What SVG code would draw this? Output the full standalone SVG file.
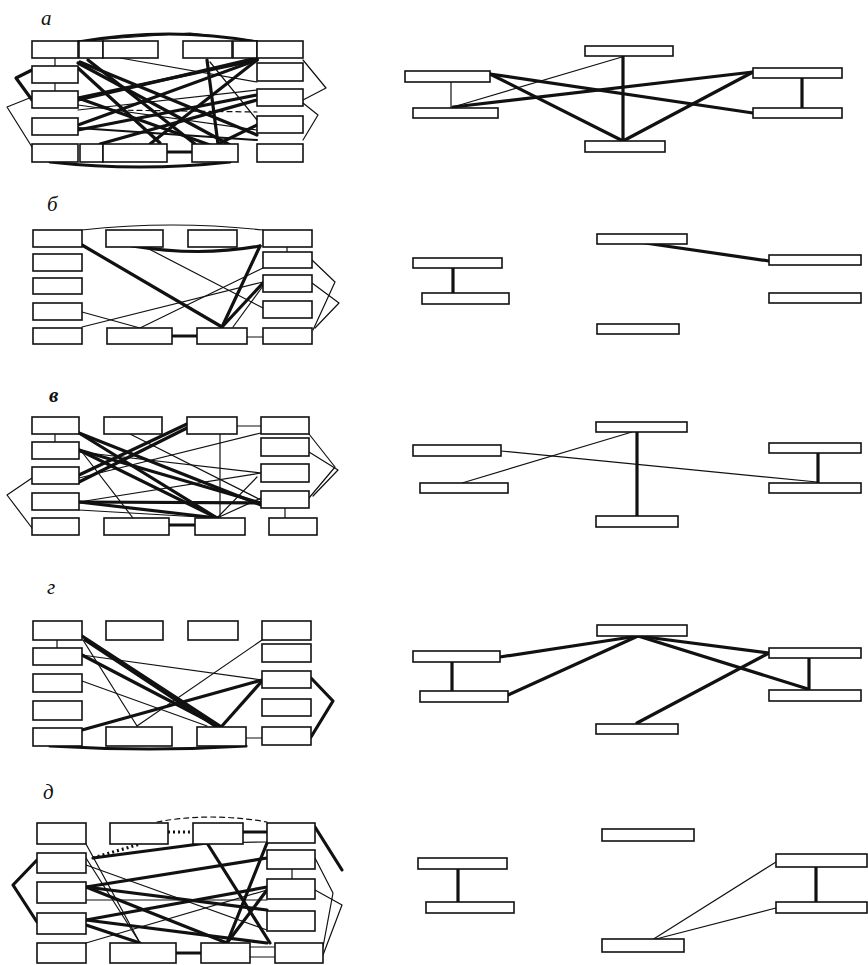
<svg xmlns="http://www.w3.org/2000/svg" width="868" height="965" viewBox="0 0 868 965">
<style>
rect{fill:#fff;stroke:#111;stroke-width:1.6}
.c line,.c path,.c polyline{stroke:#111;fill:none;stroke-linecap:round;stroke-linejoin:round}
.t{stroke-width:1.2}
.m{stroke-width:2}
.k{stroke-width:3.2}
.dash{stroke-dasharray:5,4}
.dot{stroke-dasharray:2,3;stroke-linecap:butt!important}
.lab{font-family:"Liberation Serif",serif;font-style:italic;font-size:21px;fill:#111}
</style>
<rect x="0" y="0" width="868" height="965" style="fill:#fff;stroke:none"/>
<text class="lab" x="41" y="25">а</text>
<text class="lab" x="47" y="211">б</text>
<text class="lab" x="49" y="402" font-weight="bold">в</text>
<text class="lab" x="47" y="594">г</text>
<text class="lab" x="43" y="799">д</text>

<!-- ===== Panel a, left ===== -->
<g class="c" id="a-left-connectors">
<path class="k" d="M78,42 Q170,26 257,42"/>
<polyline class="t" points="78,41 190,33 257,41"/>
<path class="k" d="M50,162 Q140,172 230,162"/>
<polyline class="k" points="32,70 16,78 32,100"/>
<polyline class="t" points="32,97 7,107 32,147"/>
<polyline class="t" points="303,60 326,88 303,100"/>
<polyline class="t" points="303,103 318,115 303,140"/>
<line class="t" x1="55" y1="58" x2="55" y2="66"/>
<line class="t" x1="55" y1="83" x2="55" y2="91"/>
<line class="k" x1="167" y1="152" x2="192" y2="152"/>
<line class="k" x1="78" y1="63" x2="230" y2="145"/>
<line class="k" x1="78" y1="68" x2="160" y2="143"/>
<line class="k" x1="78" y1="98" x2="257" y2="60"/>
<line class="k" x1="78" y1="98" x2="210" y2="145"/>
<line class="k" x1="78" y1="125" x2="257" y2="60"/>
<line class="k" x1="78" y1="130" x2="257" y2="95"/>
<line class="k" x1="207" y1="60" x2="218" y2="144"/>
<line class="k" x1="257" y1="58" x2="78" y2="100"/>
<line class="k" x1="257" y1="60" x2="150" y2="144"/>
<line class="k" x1="80" y1="62" x2="257" y2="135"/>
<line class="k" x1="88" y1="60" x2="195" y2="144"/>
<line class="k" x1="257" y1="100" x2="100" y2="144"/>
<line class="k" x1="257" y1="125" x2="218" y2="144"/>
<line class="m" x1="257" y1="140" x2="78" y2="128"/>
<line class="t" x1="78" y1="110" x2="257" y2="90"/>
<line class="t dash" x1="110" y1="110" x2="257" y2="112"/>
<line class="t" x1="210" y1="62" x2="257" y2="120"/>
<line class="t" x1="78" y1="105" x2="257" y2="130"/>
<line class="t" x1="120" y1="58" x2="257" y2="82"/>
</g>
<g id="aL1"><rect x="32" y="41" width="46" height="17"/></g>
<g id="aL2"><rect x="32" y="66" width="46" height="17"/></g>
<g id="aL3"><rect x="32" y="91" width="46" height="17"/></g>
<g id="aL4"><rect x="32" y="118" width="46" height="17"/></g>
<g id="aL5"><rect x="32" y="144" width="46" height="18"/></g>
<g id="aT0"><rect x="79" y="41" width="24" height="17"/></g>
<g id="aT1"><rect x="103" y="41" width="55" height="17"/></g>
<g id="aT2"><rect x="183" y="41" width="49" height="17"/></g>
<g id="aT3"><rect x="233" y="41" width="24" height="17"/></g>
<g id="aR1"><rect x="257" y="41" width="46" height="17"/></g>
<g id="aR2"><rect x="257" y="63" width="46" height="18"/></g>
<g id="aR3"><rect x="257" y="89" width="46" height="17"/></g>
<g id="aR4"><rect x="257" y="116" width="46" height="17"/></g>
<g id="aR5"><rect x="257" y="144" width="46" height="18"/></g>
<g id="aB0"><rect x="80" y="144" width="23" height="18"/></g>
<g id="aB1"><rect x="103" y="144" width="64" height="18"/></g>
<g id="aB3"><rect x="192" y="144" width="46" height="18"/></g>

<!-- ===== Panel a, right ===== -->
<g class="c" id="a-right-connectors">
<line class="t" x1="451" y1="82" x2="451" y2="108"/>
<line class="k" x1="802" y1="78" x2="802" y2="108"/>
<line class="k" x1="623" y1="56" x2="623" y2="141"/>
<line class="t" x1="622" y1="57" x2="453" y2="107"/>
<line class="k" x1="453" y1="107" x2="753" y2="72"/>
<line class="k" x1="490" y1="74" x2="623" y2="141"/>
<line class="k" x1="490" y1="74" x2="753" y2="113"/>
<line class="k" x1="753" y1="72" x2="623" y2="141"/>
</g>
<g id="aP1"><rect x="585" y="46" width="88" height="10"/></g>
<g id="aP2"><rect x="405" y="71" width="85" height="11"/></g>
<g id="aP3"><rect x="413" y="108" width="85" height="10"/></g>
<g id="aP4"><rect x="753" y="68" width="89" height="10"/></g>
<g id="aP5"><rect x="753" y="108" width="89" height="10"/></g>
<g id="aP6"><rect x="585" y="141" width="80" height="11"/></g>

<!-- ===== Panel б, left ===== -->
<g class="c" id="b-left-connectors">
<path class="t" d="M82,230 Q172,220 263,230"/>
<path class="k" d="M132,246 Q200,257 260,246"/>
<line class="k" x1="82" y1="245" x2="222" y2="327"/>
<line class="t" x1="147" y1="248" x2="263" y2="308"/>
<line class="k" x1="260" y1="246" x2="222" y2="327"/>
<line class="k" x1="263" y1="283" x2="222" y2="327"/>
<line class="t" x1="82" y1="312" x2="140" y2="328"/>
<line class="t" x1="82" y1="327" x2="263" y2="282"/>
<line class="t" x1="140" y1="328" x2="263" y2="268"/>
<line class="t" x1="233" y1="327" x2="263" y2="286"/>
<polyline class="t" points="312,260 335,282 313,330"/>
<polyline class="t" points="312,283 339,303 315,328"/>
<line class="t" x1="287" y1="247" x2="287" y2="252"/>
<line class="k" x1="172" y1="336" x2="197" y2="336"/>
<line class="t" x1="247" y1="337" x2="263" y2="337"/>
</g>
<g id="bL1"><rect x="33" y="230" width="49" height="17"/></g>
<g id="bL2"><rect x="33" y="254" width="49" height="17"/></g>
<g id="bL3"><rect x="33" y="278" width="49" height="16"/></g>
<g id="bL4"><rect x="33" y="303" width="49" height="17"/></g>
<g id="bL5"><rect x="33" y="328" width="49" height="16"/></g>
<g id="bT1"><rect x="106" y="230" width="57" height="17"/></g>
<g id="bT2"><rect x="188" y="230" width="49" height="17"/></g>
<g id="bR1"><rect x="263" y="230" width="49" height="17"/></g>
<g id="bR2"><rect x="263" y="252" width="49" height="16"/></g>
<g id="bR3"><rect x="263" y="275" width="49" height="17"/></g>
<g id="bR4"><rect x="263" y="301" width="49" height="17"/></g>
<g id="bR5"><rect x="263" y="328" width="49" height="16"/></g>
<g id="bB1"><rect x="107" y="328" width="65" height="16"/></g>
<g id="bB2"><rect x="197" y="328" width="50" height="16"/></g>

<!-- ===== Panel б, right ===== -->
<g class="c" id="b-right-connectors">
<line class="k" x1="453" y1="268" x2="453" y2="293"/>
<line class="k" x1="645" y1="243" x2="769" y2="261"/>
</g>
<g id="bP1"><rect x="597" y="234" width="90" height="10"/></g>
<g id="bP2"><rect x="413" y="258" width="89" height="10"/></g>
<g id="bP3"><rect x="422" y="293" width="87" height="11"/></g>
<g id="bP4"><rect x="769" y="255" width="92" height="10"/></g>
<g id="bP5"><rect x="769" y="293" width="92" height="10"/></g>
<g id="bP6"><rect x="597" y="324" width="82" height="10"/></g>

<!-- ===== Panel в, left ===== -->
<g class="c" id="v-left-connectors">
<line class="t" x1="55" y1="434" x2="55" y2="442"/>
<line class="t" x1="237" y1="426" x2="261" y2="426"/>
<line class="t" x1="220" y1="434" x2="220" y2="518"/>
<line class="k" x1="169" y1="525" x2="195" y2="525"/>
<line class="t" x1="285" y1="508" x2="285" y2="518"/>
<polyline class="t" points="32,478 7,495 32,528"/>
<polyline class="t" points="309,434 335,467 309,498"/>
<polyline class="t" points="309,452 338,470 313,496"/>
<line class="k" x1="79" y1="433" x2="261" y2="505"/>
<line class="k" x1="79" y1="433" x2="217" y2="518"/>
<line class="t" x1="130" y1="434" x2="261" y2="500"/>
<line class="k" x1="79" y1="450" x2="217" y2="518"/>
<line class="k" x1="79" y1="450" x2="261" y2="503"/>
<line class="t" x1="79" y1="452" x2="261" y2="473"/>
<line class="t" x1="82" y1="452" x2="133" y2="518"/>
<line class="k" x1="79" y1="475" x2="187" y2="424"/>
<line class="k" x1="79" y1="482" x2="187" y2="428"/>
<line class="t" x1="79" y1="478" x2="261" y2="433"/>
<line class="k" x1="79" y1="502" x2="261" y2="503"/>
<line class="k" x1="79" y1="502" x2="217" y2="518"/>
<line class="t" x1="79" y1="502" x2="261" y2="473"/>
<line class="t" x1="217" y1="518" x2="257" y2="477"/>
<line class="t" x1="217" y1="518" x2="261" y2="498"/>
<line class="t" x1="79" y1="510" x2="217" y2="518"/>
</g>
<g id="vL1"><rect x="32" y="417" width="47" height="17"/></g>
<g id="vL2"><rect x="32" y="442" width="47" height="17"/></g>
<g id="vL3"><rect x="32" y="467" width="47" height="17"/></g>
<g id="vL4"><rect x="32" y="493" width="47" height="17"/></g>
<g id="vL5"><rect x="32" y="518" width="47" height="17"/></g>
<g id="vT1"><rect x="104" y="417" width="58" height="17"/></g>
<g id="vT2"><rect x="187" y="417" width="50" height="17"/></g>
<g id="vR1"><rect x="261" y="417" width="48" height="17"/></g>
<g id="vR2"><rect x="261" y="438" width="48" height="18"/></g>
<g id="vR3"><rect x="261" y="464" width="48" height="18"/></g>
<g id="vR4"><rect x="261" y="491" width="48" height="17"/></g>
<g id="vR5"><rect x="269" y="518" width="48" height="17"/></g>
<g id="vB1"><rect x="104" y="518" width="65" height="17"/></g>
<g id="vB2"><rect x="195" y="518" width="50" height="17"/></g>

<!-- ===== Panel в, right ===== -->
<g class="c" id="v-right-connectors">
<line class="k" x1="637" y1="432" x2="637" y2="516"/>
<line class="t" x1="632" y1="432" x2="462" y2="483"/>
<line class="t" x1="501" y1="451" x2="817" y2="482"/>
<line class="k" x1="818" y1="453" x2="818" y2="483"/>
</g>
<g id="vP1"><rect x="596" y="422" width="91" height="10"/></g>
<g id="vP2"><rect x="413" y="445" width="88" height="11"/></g>
<g id="vP3"><rect x="420" y="483" width="88" height="10"/></g>
<g id="vP4"><rect x="769" y="443" width="92" height="10"/></g>
<g id="vP5"><rect x="769" y="483" width="92" height="10"/></g>
<g id="vP6"><rect x="596" y="516" width="82" height="11"/></g>

<!-- ===== Panel г, left ===== -->
<g class="c" id="g-left-connectors">
<line class="t" x1="57" y1="640" x2="57" y2="648"/>
<line class="t" x1="246" y1="738" x2="262" y2="738"/>
<path class="k" d="M50,746 Q150,752 246,746"/>
<polyline class="k" points="311,678 333,701 311,737"/>
<line class="k" x1="82" y1="636" x2="220" y2="726"/>
<line class="k" x1="82" y1="655" x2="218" y2="726"/>
<line class="k" x1="85" y1="640" x2="215" y2="726"/>
<line class="t" x1="83" y1="640" x2="137" y2="726"/>
<line class="t" x1="82" y1="655" x2="262" y2="680"/>
<line class="t" x1="82" y1="681" x2="207" y2="726"/>
<line class="k" x1="82" y1="730" x2="262" y2="680"/>
<line class="t" x1="137" y1="726" x2="262" y2="640"/>
<line class="k" x1="222" y1="726" x2="262" y2="681"/>
</g>
<g id="gL1"><rect x="33" y="621" width="49" height="19"/></g>
<g id="gL2"><rect x="33" y="648" width="49" height="17"/></g>
<g id="gL3"><rect x="33" y="674" width="49" height="18"/></g>
<g id="gL4"><rect x="33" y="701" width="49" height="19"/></g>
<g id="gL5"><rect x="33" y="728" width="49" height="18"/></g>
<g id="gT1"><rect x="106" y="621" width="57" height="19"/></g>
<g id="gT2"><rect x="188" y="621" width="50" height="19"/></g>
<g id="gR1"><rect x="262" y="621" width="49" height="19"/></g>
<g id="gR2"><rect x="262" y="644" width="49" height="18"/></g>
<g id="gR3"><rect x="262" y="671" width="49" height="17"/></g>
<g id="gR4"><rect x="262" y="699" width="49" height="17"/></g>
<g id="gR5"><rect x="262" y="727" width="49" height="18"/></g>
<g id="gB1"><rect x="106" y="727" width="66" height="19"/></g>
<g id="gB2"><rect x="197" y="727" width="49" height="19"/></g>

<!-- ===== Panel г, right ===== -->
<g class="c" id="g-right-connectors">
<line class="k" x1="452" y1="662" x2="452" y2="691"/>
<line class="k" x1="809" y1="658" x2="809" y2="690"/>
<line class="k" x1="500" y1="657" x2="638" y2="636"/>
<line class="k" x1="508" y1="695" x2="638" y2="636"/>
<line class="k" x1="638" y1="636" x2="769" y2="653"/>
<line class="k" x1="638" y1="636" x2="808" y2="689"/>
<line class="k" x1="637" y1="723" x2="769" y2="653"/>
</g>
<g id="gP1"><rect x="597" y="625" width="90" height="11"/></g>
<g id="gP2"><rect x="413" y="651" width="87" height="11"/></g>
<g id="gP3"><rect x="420" y="691" width="88" height="11"/></g>
<g id="gP4"><rect x="769" y="648" width="92" height="10"/></g>
<g id="gP5"><rect x="769" y="690" width="92" height="11"/></g>
<g id="gP6"><rect x="596" y="724" width="82" height="10"/></g>

<!-- ===== Panel д, left ===== -->
<g class="c" id="d-left-connectors">
<path class="t dash" d="M157,822 Q210,812 267,822"/>
<line class="k dot" x1="168" y1="832" x2="193" y2="832"/>
<line class="k" x1="243" y1="832" x2="267" y2="832"/>
<line class="k dot" x1="93" y1="858" x2="140" y2="844"/>
<polyline class="k" points="37,860 13,885 37,922"/>
<polyline class="k" points="315,827 342,870"/>
<polyline class="t" points="315,858 333,893 323,947"/>
<polyline class="t" points="315,890 342,905 323,955"/>
<line class="t" x1="292" y1="869" x2="292" y2="879"/>
<line class="k" x1="176" y1="953" x2="201" y2="953"/>
<line class="t" x1="250" y1="947" x2="275" y2="947"/>
<line class="t" x1="250" y1="957" x2="275" y2="957"/>
<line class="k" x1="93" y1="858" x2="207" y2="843"/>
<line class="t" x1="207" y1="843" x2="267" y2="842"/>
<line class="k" x1="207" y1="843" x2="270" y2="943"/>
<line class="k" x1="86" y1="887" x2="267" y2="858"/>
<line class="k" x1="86" y1="887" x2="267" y2="910"/>
<line class="k" x1="86" y1="887" x2="227" y2="943"/>
<line class="k" x1="86" y1="920" x2="267" y2="887"/>
<line class="k" x1="86" y1="920" x2="267" y2="943"/>
<line class="k" x1="86" y1="925" x2="140" y2="943"/>
<line class="t" x1="86" y1="858" x2="140" y2="943"/>
<line class="k" x1="227" y1="943" x2="267" y2="843"/>
<line class="k" x1="227" y1="943" x2="267" y2="890"/>
<line class="t" x1="86" y1="943" x2="267" y2="890"/>
<line class="t" x1="86" y1="844" x2="140" y2="943"/>
<line class="t" x1="86" y1="865" x2="267" y2="930"/>
<line class="t" x1="86" y1="900" x2="267" y2="900"/>
</g>
<g id="dL1"><rect x="37" y="823" width="49" height="21"/></g>
<g id="dL2"><rect x="37" y="853" width="49" height="20"/></g>
<g id="dL3"><rect x="37" y="882" width="49" height="21"/></g>
<g id="dL4"><rect x="37" y="913" width="49" height="21"/></g>
<g id="dL5"><rect x="37" y="943" width="49" height="20"/></g>
<g id="dT1"><rect x="110" y="823" width="58" height="21"/></g>
<g id="dT2"><rect x="193" y="823" width="50" height="21"/></g>
<g id="dR1"><rect x="267" y="823" width="48" height="20"/></g>
<g id="dR2"><rect x="267" y="850" width="48" height="19"/></g>
<g id="dR3"><rect x="267" y="879" width="48" height="20"/></g>
<g id="dR4"><rect x="267" y="911" width="48" height="20"/></g>
<g id="dB1"><rect x="110" y="943" width="66" height="20"/></g>
<g id="dB2"><rect x="201" y="943" width="49" height="20"/></g>
<g id="dB3"><rect x="275" y="943" width="48" height="20"/></g>

<!-- ===== Panel д, right ===== -->
<g class="c" id="d-right-connectors">
<line class="k" x1="458" y1="869" x2="458" y2="902"/>
<line class="k" x1="816" y1="867" x2="816" y2="902"/>
<line class="t" x1="652" y1="940" x2="776" y2="862"/>
<line class="t" x1="652" y1="940" x2="776" y2="908"/>
</g>
<g id="dP1"><rect x="602" y="829" width="92" height="12"/></g>
<g id="dP2"><rect x="418" y="858" width="89" height="11"/></g>
<g id="dP3"><rect x="426" y="902" width="88" height="11"/></g>
<g id="dP4"><rect x="776" y="854" width="91" height="13"/></g>
<g id="dP5"><rect x="776" y="902" width="91" height="11"/></g>
<g id="dP6"><rect x="602" y="939" width="82" height="13"/></g>
</svg>
